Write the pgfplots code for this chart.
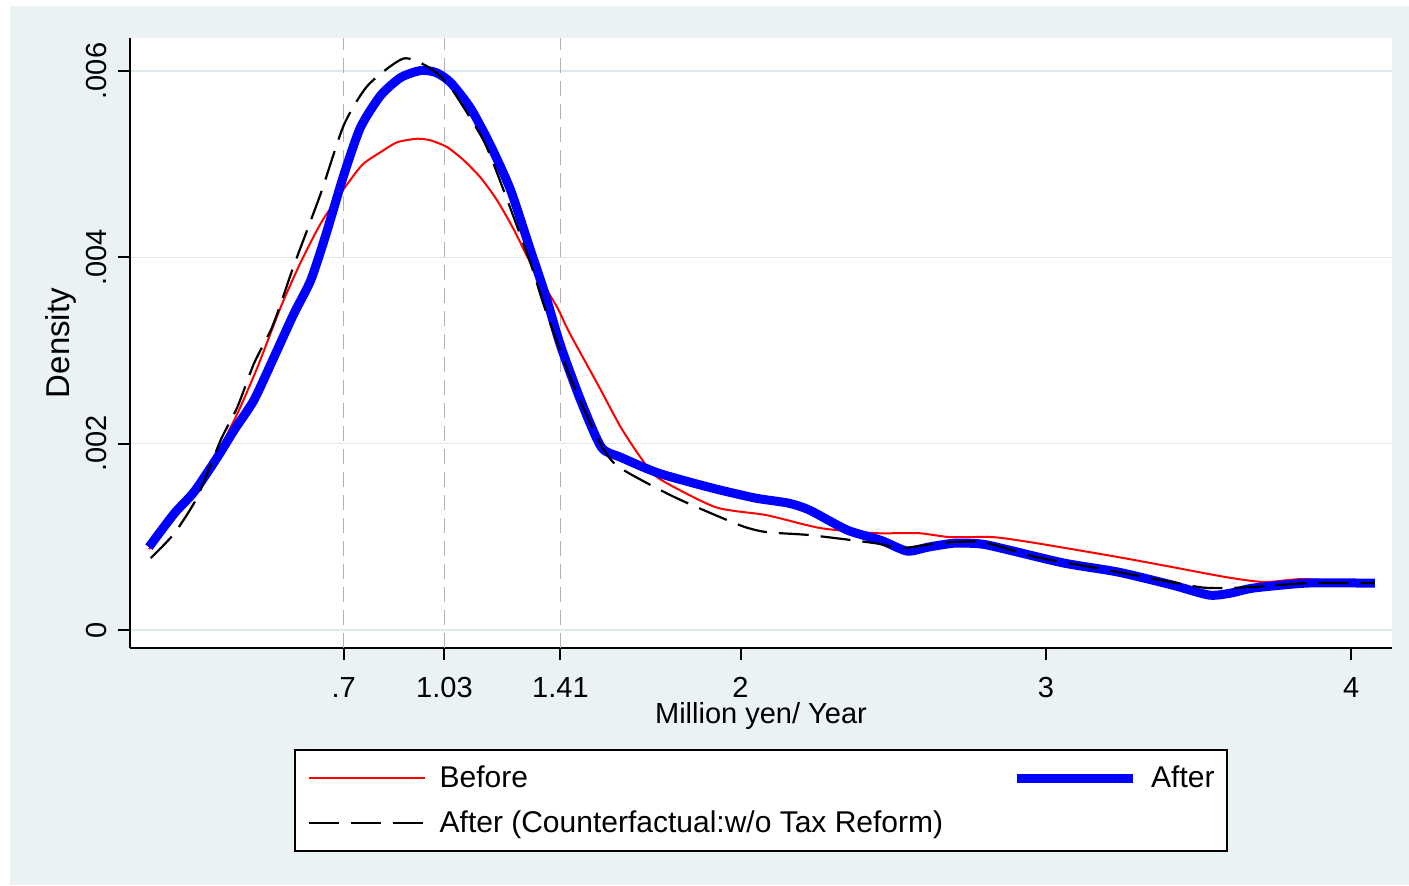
\documentclass[border=0pt]{standalone}
\usepackage{fontspec}
\setmainfont{Liberation Sans}
\usepackage{pgfplots}
\pgfplotsset{compat=1.18}
\definecolor{bg}{RGB}{234,242,243}
\definecolor{gridc}{RGB}{222,233,237}
\definecolor{vl}{RGB}{178,178,178}
\begin{document}
\begin{tikzpicture}
\useasboundingbox (0,0) rectangle (704.5pt,-442.5pt);
\fill[bg] (5pt,-3pt) rectangle (704.5pt,-442.5pt);
\begin{axis}[
 at={(65pt,-324pt)}, anchor=south west,
 scale only axis, width=631pt, height=305pt,
 xmin=0, xmax=4.134, ymin=-0.193, ymax=6.354,
 axis x line*=bottom, axis y line*=left,
 axis background/.style={fill=white},
 axis line style={line width=1pt, -},
 tick align=outside, major tick length=6pt,
 tick style={line width=1pt, black},
 xtick={0.7,1.03,1.41,2,3,4}, xticklabels={.7,1.03,1.41,2,3,4},
 ytick={0,2,4,6}, yticklabels={0,.002,.004,.006},
 ymajorgrids, grid style={gridc, line width=0.8pt},
 tick label style={font=\fontsize{14.5}{17}\selectfont},
 xticklabel style={anchor=base, inner sep=0pt},
 xticklabel shift=18.5pt,
 yticklabel style={rotate=90, anchor=south, inner sep=0pt},
 yticklabel shift=5.5pt,
 xlabel={Million yen/ Year},
 ylabel={Density},
 every axis x label/.style={at={(axis description cs:0.5,-0.1230)}, anchor=base, font=\fontsize{14.5}{17}\selectfont},
 every axis y label/.style={at={(axis description cs:-0.0543,0.5)}, anchor=center, rotate=90, font=\fontsize{16.5}{19}\selectfont},
 legend columns=2, legend cell align=left,
 legend style={at={(0.5,-0.1656)}, anchor=north, draw=black, line width=1pt, fill=white,
   inner xsep=6pt, inner ysep=8pt, font=\fontsize{15}{18}\selectfont, row sep=10pt,
   nodes={inner sep=0pt},
   /tikz/every odd column/.append style={column sep=7pt},
   /tikz/every even column/.append style={column sep=34.5pt}},
 legend image code/.code={\draw[#1] (0pt,0pt) -- (58pt,0pt);},
]
\addplot[forget plot, vl, line width=0.8pt, dash pattern=on 7.5pt off 4pt] coordinates {(0.7,-0.193)(0.7,6.354)};
\addplot[forget plot, vl, line width=0.8pt, dash pattern=on 7.5pt off 4pt] coordinates {(1.03,-0.193)(1.03,6.354)};
\addplot[forget plot, vl, line width=0.8pt, dash pattern=on 7.5pt off 4pt] coordinates {(1.41,-0.193)(1.41,6.354)};

\addplot[red, line width=1pt, smooth, tension=0.4] coordinates {
(0.062,0.869)(0.167,1.287)(0.287,1.912)(0.352,2.324)(0.418,2.824)(0.494,3.467)(0.559,3.946)(0.625,4.365)(0.690,4.686)(0.760,4.990)(0.821,5.129)(0.876,5.236)(0.941,5.273)(0.985,5.255)(1.039,5.183)(1.094,5.040)(1.150,4.850)(1.203,4.610)(1.257,4.300)(1.301,4.010)(1.345,3.760)(1.400,3.460)(1.438,3.200)(1.535,2.620)(1.607,2.180)(1.672,1.855)(1.731,1.630)(1.918,1.319)(2.085,1.233)(2.262,1.094)(2.439,1.040)(2.582,1.040)(2.687,0.997)(2.828,0.997)(2.968,0.933)(3.237,0.783)(3.414,0.676)(3.590,0.568)(3.715,0.515)(3.836,0.547)(3.963,0.525)(4.078,0.515)
};
\addlegendentry{Before}

\addplot[blue, line width=4.5pt, smooth, tension=0.4, line join=round] coordinates {
(0.062,0.890)(0.145,1.251)(0.210,1.483)(0.287,1.858)(0.341,2.145)(0.406,2.467)(0.472,2.931)(0.537,3.396)(0.592,3.753)(0.641,4.236)(0.700,4.880)(0.755,5.394)(0.821,5.737)(0.887,5.930)(0.952,6.005)(1.002,5.984)(1.050,5.877)(1.116,5.598)(1.181,5.201)(1.247,4.719)(1.312,4.075)(1.361,3.593)(1.410,3.056)(1.476,2.467)(1.544,1.962)(1.607,1.855)(1.731,1.684)(1.908,1.523)(2.049,1.416)(2.157,1.362)(2.226,1.287)(2.350,1.072)(2.458,0.965)(2.546,0.847)(2.615,0.890)(2.703,0.933)(2.792,0.922)(2.880,0.858)(3.060,0.718)(3.237,0.622)(3.414,0.483)(3.535,0.375)(3.607,0.397)(3.679,0.450)(3.856,0.504)(4.049,0.504)(4.078,0.504)
};
\addlegendentry{After}

\addplot[black, line width=1.1pt, dash pattern=on 15pt off 6pt, smooth, tension=0.4] coordinates {
(0.068,0.772)(0.145,1.037)(0.221,1.430)(0.297,2.038)(0.352,2.395)(0.406,2.860)(0.461,3.217)(0.494,3.504)(0.537,3.914)(0.625,4.686)(0.700,5.416)(0.779,5.845)(0.896,6.134)(0.985,6.027)(1.050,5.823)(1.158,5.255)(1.224,4.719)(1.312,3.936)(1.358,3.464)(1.450,2.650)(1.535,2.038)(1.597,1.759)(1.784,1.426)(1.997,1.126)(2.085,1.051)(2.226,1.019)(2.439,0.933)(2.527,0.879)(2.651,0.933)(2.792,0.944)(2.968,0.783)(3.148,0.676)(3.325,0.568)(3.502,0.461)(3.571,0.450)(3.679,0.461)(3.856,0.504)(4.033,0.504)(4.078,0.504)
};
\addlegendentry{After (Counterfactual:w/o Tax Reform)}
\end{axis}
\end{tikzpicture}
\end{document}
